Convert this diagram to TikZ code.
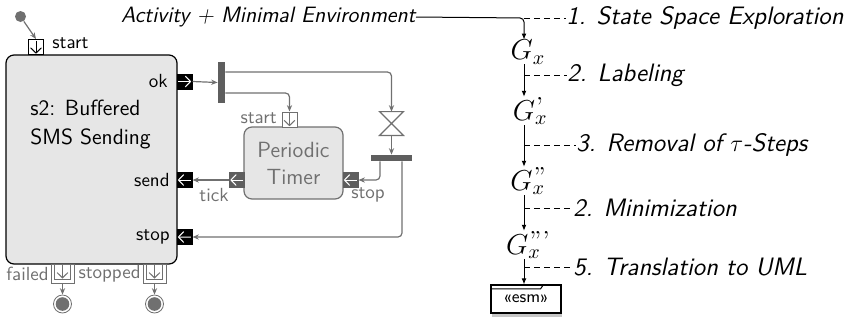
\documentclass[tikz,border=0pt]{standalone}
\usepackage{fontspec}
\usepackage{amsmath}
\usetikzlibrary{arrows.meta,shadows,calc,positioning}
\definecolor{umlgray}{HTML}{707070}
\definecolor{bardark}{HTML}{5E5E5E}
\definecolor{boxfill}{HTML}{E6E6E6}
% small arrow drawn inside a port box
\newcommand{\portarrow}[4]{\draw[#4,line width=0.5pt,-{Straight Barb[length=2.6pt,width=5.4pt]}] ($(#1.#2)!0.1!(#1.#3)$) -- ($(#1.#2)!0.92!(#1.#3)$);}
% G with subscript x and quote marks above it
\newcommand{\gq}[1]{G_x\kern-5.8pt\raisebox{2.6pt}{\fontsize{13}{13}\rmfamily\upshape #1}}
\tikzset{
  port/.style={draw,inner sep=0pt,minimum size=7.5pt,line width=0.5pt},
  flow/.style={umlgray,line width=0.6pt,-{Stealth[length=3.2pt,width=2.6pt]}},
  conn/.style={black,line width=0.5pt,-{Latex[length=3pt,width=2.4pt]}},
  bar/.style={fill=bardark,inner sep=0pt},
  lbl/.style={inner sep=0pt,font=\sffamily\fontsize{9.5}{11}\selectfont},
  steplbl/.style={inner sep=0pt,anchor=west,font=\sffamily\itshape\fontsize{12.6}{14}\selectfont},
  gnode/.style={inner sep=0pt,font=\Large},
  final/.style={circle,draw=umlgray,line width=0.4pt,fill=white,minimum size=9pt,inner sep=0pt,
    path picture={\fill[umlgray] (path picture bounding box.center) circle (3.4pt);}},
}
\begin{document}
\begin{tikzpicture}[x=0.5pt,y=-0.5pt,font=\sffamily]
  \useasboundingbox (0,0) rectangle (847,323);
  %Buffered SMS sending
  \node[draw,fill=boxfill,rounded corners=4pt,line width=0.6pt,minimum width=85.5pt,minimum height=104.5pt,inner sep=0pt] (s2) at (91.5,159.5) {};
  \node[inner sep=0pt,anchor=west,align=left,font=\sffamily\fontsize{11}{14.5}\selectfont] (s2name) at (30,125) {s2: Buffered\\SMS Sending};
  \node[circle,fill=umlgray,inner sep=0pt,minimum size=5.5pt] (init) at (20.5,16.5) {};
  \node[port,fill=white] (sstart) at (36,47) {};
  \node[lbl,anchor=west] (sstartlbl) at (52,43) {start};
  \draw[flow] (init) -- (sstart.north);
  \portarrow{sstart}{north}{south}{black}
  %Ports on the right side
  \node[port,fill=black] (ok) at (184.5,81.5) {};
  \node[port,fill=black] (send) at (184.5,180) {};
  \node[port,fill=black] (stop) at (184.5,237) {};
  \portarrow{ok}{west}{east}{white}
  \portarrow{send}{east}{west}{white}
  \portarrow{stop}{east}{west}{white}
  \node[lbl,anchor=east] (oklbl) at (168,81) {ok};
  \node[lbl,anchor=east] (sendlbl) at (170,180) {send};
  \node[lbl,anchor=east] (stoplbl) at (170,237) {stop};
  %Exit ports and final nodes
  \node[port,draw=umlgray,fill=white,minimum width=11.5pt,minimum height=9.5pt] (failo) at (62.5,273.5) {};
  \node[port,draw=umlgray,fill=white,minimum width=8.2pt,minimum height=7.6pt] (faili) at (62.5,271.7) {};
  \node[port,draw=umlgray,fill=white,minimum width=11.5pt,minimum height=9.5pt] (stopo) at (154.5,273.5) {};
  \node[port,draw=umlgray,fill=white,minimum width=8.2pt,minimum height=7.6pt] (stopi) at (154.5,271.7) {};
  \portarrow{faili}{north}{south}{umlgray}
  \portarrow{stopi}{north}{south}{umlgray}
  \node[lbl,umlgray,anchor=east] (faillbl) at (49,274) {failed};
  \node[lbl,umlgray,anchor=east] (stoppedlbl) at (141,274) {stopped};
  \node[final] (fin1) at (62.5,304) {};
  \node[final] (fin2) at (154.5,304) {};
  \draw[flow] (failo.south) -- (fin1.north);
  \draw[flow] (stopo.south) -- (fin2.north);
  %Periodic timer
  \node[draw=umlgray,fill=boxfill,text=umlgray,rounded corners=4pt,line width=0.6pt,minimum width=49.5pt,minimum height=36pt,inner sep=0pt,align=center,font=\sffamily\fontsize{11}{13.5}\selectfont] (timer) at (293.5,163) {Periodic\\Timer};
  \node[port,draw=umlgray,fill=white] (tstart) at (289.5,119.5) {};
  \node[port,draw=bardark,fill=bardark] (tick) at (237,180) {};
  \node[port,draw=bardark,fill=bardark] (tstop) at (350.5,180) {};
  \portarrow{tstart}{north}{south}{umlgray}
  \portarrow{tick}{east}{west}{white}
  \portarrow{tstop}{east}{west}{white}
  \node[lbl,umlgray,anchor=east] (tstartlbl) at (277,118) {start};
  \node[lbl,umlgray] (ticklbl) at (214,195) {tick};
  \node[lbl,umlgray] (tstoplbl) at (368,195) {stop};
  %Fork, time event and join
  \node[bar,minimum width=3.5pt,minimum height=20.5pt] (fork) at (221.5,82.5) {};
  \node[minimum size=11.5pt,inner sep=0pt] (hg) at (391.5,123.5) {};
  \draw[umlgray,line width=0.6pt] (hg.north west) -- (hg.north east) -- (hg.south west) -- (hg.south east) -- cycle;
  \node[bar,minimum width=20.5pt,minimum height=3pt] (join) at (391.5,158) {};
  \draw[flow] (ok.east) -- (fork.west);
  \draw[flow,rounded corners=2pt] ([yshift=5.25pt]fork.east) -| (hg.north);
  \draw[flow,rounded corners=2pt] ([yshift=-5.25pt]fork.east) -| (tstart.north);
  \draw[flow] (hg.south) -- (join.north);
  \draw[flow,rounded corners=2pt] ([xshift=-5.75pt]join.south) |- (tstop.east);
  \draw[flow,rounded corners=2pt] ([xshift=5.25pt]join.south) |- (stop.east);
  \draw[flow] (tick.west) -- (send.east);
  %Reduction steps
  \coordinate (col) at (524,18);
  \node[inner sep=0pt,anchor=east,font=\sffamily\itshape\fontsize{11.1}{13}\selectfont] (act) at (416,17) {Activity + Minimal Environment};
  \node[gnode] (g0) at (528,52) {$G_x$};
  \node[gnode] (g1) at (528,111) {$\gq{'}$};
  \node[gnode] (g2) at (528,181) {$\gq{''}$};
  \node[gnode] (g3) at (528,245) {$\gq{'''}$};
  \node[draw,fill=white,line width=0.6pt,minimum width=35pt,minimum height=14pt,inner sep=0pt,
    drop shadow={shadow xshift=0.3pt,shadow yshift=-1.8pt,opacity=0.45},font=\sffamily\fontsize{8.5}{10}\selectfont] (esm) at (526,299) {«esm»};
  \draw[line width=0.5pt] ([yshift=-2.2pt]esm.north west) -- ([xshift=-10.5pt,yshift=-2.2pt]esm.north east) -- ([xshift=-9pt]esm.north east);
  \node[steplbl] (l1) at (566,18) {1. State Space Exploration};
  \node[steplbl] (l2) at (567,75) {2. Labeling};
  \node[steplbl] (l3) at (576,145) {3. Removal of $\tau$-Steps};
  \node[steplbl] (l4) at (573,208) {2. Minimization};
  \node[steplbl] (l5) at (573,267) {5. Translation to UML};
  \draw[conn,rounded corners=2pt] (act.east) -- (col) -- (g0.north -| col);
  \draw[conn] (g0.south -| col) -- (g1.north -| col);
  \draw[conn] (g1.south -| col) -- (g2.north -| col);
  \draw[conn] (g2.south -| col) -- (g3.north -| col);
  \draw[conn] (g3.south -| col) -- (esm.north -| col);
  \foreach \l in {l1,l2,l3,l4,l5}
    \draw[dash pattern=on 3pt off 2pt,line width=0.5pt] (\l.west -| col) -- (\l.west);
\end{tikzpicture}
\end{document}
